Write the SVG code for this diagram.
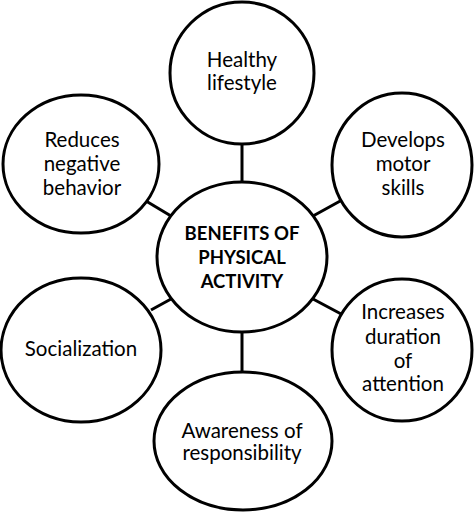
<svg xmlns="http://www.w3.org/2000/svg" width="474" height="512" viewBox="0 0 474 512">
<style>
.n{fill:#fff;stroke:#000;stroke-width:3}
.c line{stroke:#000;stroke-width:3}
text{font-family:Lato,"Open Sans","Liberation Sans",sans-serif;font-size:20.5px;fill:#000;text-anchor:middle}
.b{font-weight:bold;font-size:18.5px}
</style>
<rect width="474" height="512" fill="#fff"/>
<g class="c" id="connectors">
<line x1="242" y1="143" x2="242" y2="184"/>
<line x1="146" y1="201" x2="171" y2="216"/>
<line x1="313" y1="216" x2="342" y2="200"/>
<line x1="151" y1="310" x2="171" y2="299"/>
<line x1="313" y1="299" x2="343" y2="315"/>
<line x1="242" y1="331" x2="242" y2="374"/>
</g>
<g id="center"><ellipse class="n" cx="242" cy="257" rx="85" ry="75"/>
<text class="b" x="242" y="240">BENEFITS OF</text><text class="b" x="242" y="264">PHYSICAL</text><text class="b" x="242" y="288">ACTIVITY</text></g>
<g id="healthy"><ellipse class="n" cx="242" cy="73" rx="72" ry="71"/>
<text x="242" y="67">Healthy</text><text x="242" y="90">lifestyle</text></g>
<g id="reduces"><ellipse class="n" cx="81" cy="164" rx="78" ry="69"/>
<text x="82" y="147">Reduces</text><text x="82" y="171">negative</text><text x="82" y="195">behavior</text></g>
<g id="develops"><ellipse class="n" cx="402" cy="165" rx="70" ry="72"/>
<text x="403" y="147">Develops</text><text x="403" y="171">motor</text><text x="403" y="195">skills</text></g>
<g id="socialization"><ellipse class="n" cx="81" cy="350" rx="80" ry="72"/>
<text x="81" y="356">Socialization</text></g>
<g id="increases"><ellipse class="n" cx="402" cy="350" rx="70" ry="71"/>
<text x="403" y="319">Increases</text><text x="403" y="344">duration</text><text x="403" y="368">of</text><text x="403" y="391">attention</text></g>
<g id="awareness"><ellipse class="n" cx="243" cy="441" rx="89" ry="69"/>
<text x="242" y="438">Awareness of</text><text x="242" y="460">responsibility</text></g>
</svg>
